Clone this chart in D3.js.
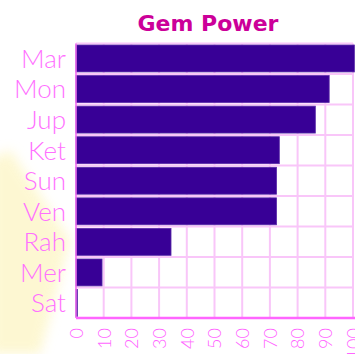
<!DOCTYPE html>
<html>
<head>
<meta charset="utf-8">
<script src="https://cdn.jsdelivr.net/npm/d3@7"></script>
<style>
  html, body { margin: 0; padding: 0; background: #ffffff; overflow: hidden; }
  svg { display: block; }
</style>
</head>
<body>
<svg id="chart" width="355" height="354"></svg>
<script>
// Gem power per graha
const categories = ["Mar", "Mon", "Jup", "Ket", "Sun", "Ven", "Rah", "Mer", "Sat"];
const powerValues = [100.5, 91.4, 86.4, 73.4, 72.4, 72.4, 34.3, 9.4, 0.5];
const tickValues = [0, 10, 20, 30, 40, 50, 60, 70, 80, 90, 100];
const tickLabels = ["0", "10", "20", "30", "40", "50", "60", "70", "80", "90", "100"];

const svg = d3.select("#chart");
const W = 355, H = 354;
const margin = { left: 76, right: 2, top: 43.5, bottom: 36 };
const x0 = margin.left, x1 = 353;
const y0 = margin.top, y1 = H - margin.bottom;

// soft yellow glow on the left side
const defs = svg.append("defs");
const blur = defs.append("filter").attr("id", "soft").attr("x", "-50%").attr("y", "-50%").attr("width", "200%").attr("height", "200%");
blur.append("feGaussianBlur").attr("stdDeviation", 6);
svg.append("path")
  .attr("d", "M -10 354 L 40 354 L 70 240 L 10 150 L -10 160 Z")
  .attr("fill", "#fdf6c8")
  .attr("opacity", 0.8)
  .attr("filter", "url(#soft)");

const x = d3.scaleLinear().domain([0, 100]).range([x0, x1]);
const y = d3.scaleBand().domain(categories).range([y0, y1]).paddingInner(0.12).paddingOuter(0.05);
const step = (y1 - y0) / categories.length;

// grid
const grid = svg.append("g").attr("stroke", "#f9c6f9").attr("stroke-width", 2);
grid.selectAll("line.v").data(tickValues).join("line")
  .attr("x1", d => x(d)).attr("x2", d => x(d))
  .attr("y1", y0).attr("y2", y1);
grid.selectAll("line.h").data(d3.range(categories.length + 1)).join("line")
  .attr("x1", x0).attr("x2", x1)
  .attr("y1", i => y0 + i * step).attr("y2", i => y0 + i * step);

// bars
svg.append("g").selectAll("rect").data(categories).join("rect")
  .attr("x", x(0))
  .attr("y", d => y(d))
  .attr("width", (d, i) => Math.max(0, x(powerValues[i]) - x(0)))
  .attr("height", y.bandwidth())
  .attr("fill", "#380096")
  .attr("stroke", "#5a2aa8")
  .attr("stroke-width", 0.8);

// left edge and bottom axis line
svg.append("line").attr("x1", x0).attr("x2", x0).attr("y1", y0).attr("y2", y1)
  .attr("stroke", "#f070f0").attr("stroke-width", 1.5);
svg.append("line").attr("x1", x0).attr("x2", W).attr("y1", y1).attr("y2", y1)
  .attr("stroke", "#ff66ff").attr("stroke-width", 2.5);

// category labels
const yAxis = d3.axisLeft(y).tickSize(0).tickPadding(10);
const gy = svg.append("g").attr("transform", `translate(${x0},0)`).call(yAxis);
gy.select(".domain").remove();
gy.selectAll("text")
  .attr("fill", "#ff70ff")
  .attr("font-family", "Lato, 'DejaVu Sans', sans-serif")
  .attr("font-weight", 300)
  .attr("font-size", 26)
  .attr("dy", "0.36em");

// value ticks, rotated
const xAxis = d3.axisBottom(x).tickValues(tickValues).tickFormat((d, i) => tickLabels[i]).tickSize(0);
const gx = svg.append("g").attr("transform", `translate(0,${y1})`).call(xAxis);
gx.select(".domain").remove();
gx.selectAll("text")
  .attr("fill", "#ff66ff")
  .attr("font-family", "Lato, 'DejaVu Sans', sans-serif")
  .attr("font-weight", 300)
  .attr("font-size", 18)
  .attr("text-anchor", "end")
  .attr("transform", "rotate(-90)")
  .attr("x", -10)
  .attr("y", 0)
  .attr("dy", "0.35em");

// title
svg.append("text")
  .attr("x", 208).attr("y", 31)
  .attr("text-anchor", "middle")
  .attr("fill", "#cc0099")
  .attr("font-family", "'DejaVu Sans', sans-serif")
  .attr("font-weight", "bold")
  .attr("font-size", 22)
  .text("Gem Power");
</script>
</body>
</html>
